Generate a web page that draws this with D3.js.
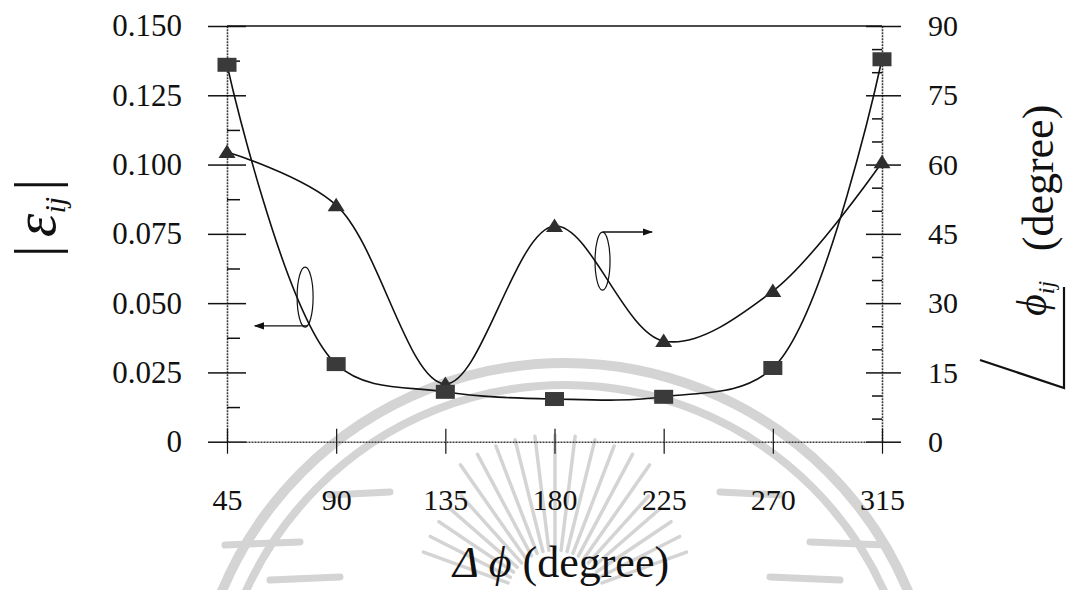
<!DOCTYPE html>
<html>
<head>
<meta charset="utf-8">
<script src="https://cdn.jsdelivr.net/npm/d3@7"></script>
<style>
  html, body { margin: 0; padding: 0; background: #fff; }
  svg { display: block; }
  text { font-family: "Liberation Serif", "Times New Roman", serif; fill: #111; }
</style>
</head>
<body>
<svg id="chart" width="1071" height="590"></svg>
<script>
// Phase difference between elements (degree)
const deltaPhi = [45, 90, 135, 180, 225, 270, 315];
// |ε_ij| magnitude (left axis)
const epsMag = [0.136, 0.028, 0.018, 0.0154, 0.0162, 0.0266, 0.138];
// ∠ϕ_ij phase (degree, right axis)
const phiAngle = [62.7, 51.2, 12.5, 46.7, 21.8, 32.6, 60.5];

// tick values
const xTicks = [45, 90, 135, 180, 225, 270, 315];
const leftMajor = [0, 0.025, 0.05, 0.075, 0.1, 0.125, 0.15];
const leftMinor = [0.0125, 0.0375, 0.0625, 0.0875, 0.1125, 0.1375];
const rightMajor = [0, 15, 30, 45, 60, 75, 90];
const rightMinor = [5, 10, 20, 25, 35, 40, 50, 55, 65, 70, 80, 85];

// callouts tying each curve to its axis: [ellipse x, ellipse y, arrow end x, arrow y]
const epsCallout = [77.2, 0.0522, 56.5, 0.0418];
const phiCallout = [199.8, 39.1, 220.2, 45.4];

const svg = d3.select("#chart");

const x = d3.scaleLinear().domain([45, 315]).range([227, 882]);
const yL = d3.scaleLinear().domain([0, 0.15]).range([441.7, 26]);
const yR = d3.scaleLinear().domain([0, 90]).range([441.7, 26]);

// ---- faint seal in the background ----
const seal = svg.append("g").attr("stroke", "#d4d4d4").attr("fill", "none");
seal.append("circle").attr("cx", 565).attr("cy", 735).attr("r", 372).attr("stroke-width", 10);
seal.append("circle").attr("cx", 565).attr("cy", 735).attr("r", 350).attr("stroke-width", 8);
const rayG = seal.append("g").attr("stroke-width", 3.5).attr("stroke-linecap", "round");
for (let a = -160; a <= -20; a += 7) {
  const r = a * Math.PI / 180;
  const r0 = 50, r1 = (Math.abs(a + 90) < 40) ? 165 : 140;
  rayG.append("line")
    .attr("x1", 555 + r0 * Math.cos(r)).attr("y1", 600 + r0 * Math.sin(r))
    .attr("x2", 555 + r1 * Math.cos(r)).attr("y2", 600 + r1 * Math.sin(r));
}
const wingG = seal.append("g").attr("stroke-width", 7).attr("stroke-linecap", "round");
[[270, 580, 340, 577], [225, 545, 300, 542], [770, 577, 840, 580], [810, 542, 885, 545],
 [330, 495, 390, 492], [720, 492, 780, 495]].forEach(s => {
  wingG.append("line").attr("x1", s[0]).attr("y1", s[1]).attr("x2", s[2]).attr("y2", s[3]);
});

// ---- frame ----
const axisStroke = "#3a3a3a";
svg.append("line")
  .attr("x1", x(45)).attr("x2", x(315)).attr("y1", yL(0.15)).attr("y2", yL(0.15))
  .attr("stroke", "#111").attr("stroke-width", 1.6);

function styleAxis(g, dashed, fs) {
  g.select(".domain").attr("stroke", axisStroke).attr("stroke-width", 1.6)
    .attr("stroke-dasharray", dashed ? "2,1" : null);
  g.selectAll(".tick line").attr("stroke", "#111").attr("stroke-width", 1.5);
  g.selectAll(".tick text").style("font-size", (fs || 30) + "px").attr("fill", "#111");
}

// left axis
const gL = svg.append("g").attr("transform", `translate(${x(45)},0)`);
gL.call(d3.axisLeft(yL).tickValues(leftMajor).tickSize(19).tickSizeOuter(0).tickPadding(26)
  .tickFormat(d => d === 0 ? "0" : d3.format(".3f")(d)));
styleAxis(gL, true, 31);
const gLin = svg.append("g").attr("transform", `translate(${x(45)},0)`);
gLin.call(d3.axisLeft(yL).tickValues(leftMajor).tickSize(-19).tickSizeOuter(0).tickFormat(""));
gLin.select(".domain").remove();
styleAxis(gLin, false);
const gLmin = svg.append("g").attr("transform", `translate(${x(45)},0)`);
gLmin.call(d3.axisLeft(yL).tickValues(leftMinor).tickSize(-13).tickSizeOuter(0).tickFormat(""));
gLmin.select(".domain").remove();
styleAxis(gLmin, false);

// right axis
const gR = svg.append("g").attr("transform", `translate(${x(315)},0)`);
gR.call(d3.axisRight(yR).tickValues(rightMajor).tickSize(19).tickSizeOuter(0).tickPadding(27));
styleAxis(gR, true, 30);
const gRin = svg.append("g").attr("transform", `translate(${x(315)},0)`);
gRin.call(d3.axisRight(yR).tickValues(rightMajor).tickSize(-16).tickSizeOuter(0).tickFormat(""));
gRin.select(".domain").remove();
styleAxis(gRin, false);
const gRmin = svg.append("g").attr("transform", `translate(${x(315)},0)`);
gRmin.call(d3.axisRight(yR).tickValues(rightMinor).tickSize(-10).tickSizeOuter(0).tickFormat(""));
gRmin.select(".domain").remove();
styleAxis(gRmin, false);

// bottom axis
const gB = svg.append("g").attr("transform", `translate(0,${yL(0)})`);
gB.call(d3.axisBottom(x).tickValues(xTicks).tickSize(12).tickSizeOuter(0).tickPadding(35));
styleAxis(gB, true, 30);
gB.selectAll(".tick line").attr("stroke-width", 1.2);
const gBin = svg.append("g").attr("transform", `translate(0,${yL(0)})`);
gBin.call(d3.axisBottom(x).tickValues(xTicks).tickSize(-13).tickSizeOuter(0).tickFormat(""));
gBin.select(".domain").remove();
styleAxis(gBin, false);
gBin.selectAll(".tick line").attr("stroke-width", 1.2);

// ---- curves ----
const epsLine = d3.line().x((d, i) => x(deltaPhi[i])).y(d => yL(d)).curve(d3.curveCatmullRom.alpha(0.5));
const phiLine = d3.line().x((d, i) => x(deltaPhi[i])).y(d => yR(d)).curve(d3.curveCatmullRom.alpha(0.5));

svg.append("path").datum(phiAngle).attr("d", phiLine)
  .attr("fill", "none").attr("stroke", "#111").attr("stroke-width", 1.6);
svg.append("path").datum(epsMag).attr("d", epsLine)
  .attr("fill", "none").attr("stroke", "#111").attr("stroke-width", 1.6);

// triangles
svg.append("g").selectAll("path").data(phiAngle).join("path")
  .attr("transform", (d, i) => `translate(${x(deltaPhi[i])},${yR(d)})`)
  .attr("d", "M0,-7.5 L8.5,6 L-8.5,6 Z")
  .attr("fill", "#2e2e2e");

// squares
svg.append("g").selectAll("rect").data(epsMag).join("rect")
  .attr("x", (d, i) => x(deltaPhi[i]) - 9.5)
  .attr("y", d => yL(d) - 7)
  .attr("width", 19).attr("height", 14)
  .attr("fill", "#3a3a3a");

// ---- callouts ----
const defs = svg.append("defs");
defs.append("marker").attr("id", "arrow").attr("viewBox", "0 0 10 10")
  .attr("refX", 9).attr("refY", 5).attr("markerWidth", 8).attr("markerHeight", 8)
  .attr("orient", "auto-start-reverse")
  .append("path").attr("d", "M0,1.5 L10,5 L0,8.5 Z").attr("fill", "#111");

// |ε| callout (left axis)
svg.append("ellipse").attr("cx", x(epsCallout[0])).attr("cy", yL(epsCallout[1]))
  .attr("rx", 8).attr("ry", 30).attr("fill", "none").attr("stroke", "#111").attr("stroke-width", 1.2);
svg.append("line").attr("x1", x(epsCallout[0]) + 2).attr("y1", yL(epsCallout[3]))
  .attr("x2", x(epsCallout[2])).attr("y2", yL(epsCallout[3]))
  .attr("stroke", "#111").attr("stroke-width", 1.3).attr("marker-end", "url(#arrow)");

// ∠ϕ callout (right axis)
svg.append("ellipse").attr("cx", x(phiCallout[0])).attr("cy", yR(phiCallout[1]))
  .attr("rx", 7.5).attr("ry", 29).attr("fill", "none").attr("stroke", "#111").attr("stroke-width", 1.2);
svg.append("line").attr("x1", x(phiCallout[0])).attr("y1", yR(phiCallout[3]))
  .attr("x2", x(phiCallout[2])).attr("y2", yR(phiCallout[3]))
  .attr("stroke", "#111").attr("stroke-width", 1.3).attr("marker-end", "url(#arrow)");

// ---- axis titles ----
const xt = svg.append("text").attr("x", 561).attr("y", 577).attr("text-anchor", "middle")
  .style("font-size", "44px");
xt.append("tspan").style("font-style", "italic").text("Δ");
xt.append("tspan").attr("dx", 10).style("font-style", "italic").text("ϕ");
xt.append("tspan").text(" (degree)");

const lt = svg.append("text").attr("transform", "translate(55,218) rotate(-90)")
  .attr("text-anchor", "middle").style("font-size", "60px");
lt.append("tspan").text("|");
lt.append("tspan").attr("dx", 8).style("font-style", "italic").text("ε");
lt.append("tspan").attr("dy", 10).style("font-style", "italic").style("font-size", "30px").text("ij");
lt.append("tspan").attr("dy", -10).attr("dx", 6).text("|");

svg.append("text").attr("transform", "translate(1053,178) rotate(-90)")
  .attr("text-anchor", "middle").style("font-size", "44px").text("(degree)");

const pt = svg.append("text").attr("transform", "translate(1046,316) rotate(-90)")
  .attr("text-anchor", "start").style("font-size", "42px");
pt.append("tspan").style("font-style", "italic").text("ϕ");
pt.append("tspan").attr("dy", 8).style("font-style", "italic").style("font-size", "24px").text("ij");

// angle sign drawn as two strokes
svg.append("path").attr("d", "M980,360 L1064,388 L1064,287")
  .attr("fill", "none").attr("stroke", "#111").attr("stroke-width", 2.2);
</script>
</body>
</html>
